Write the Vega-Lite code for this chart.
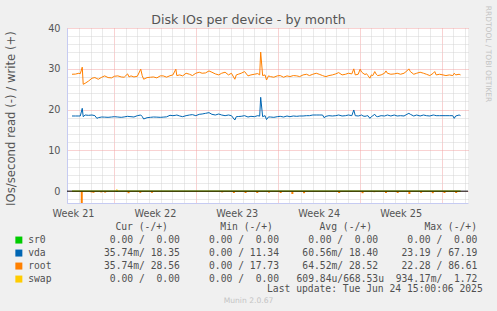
{
"$schema":"https://vega.github.io/schema/vega-lite/v6.json",
"width":401,"height":175,
"autosize":{"type":"none"},
"padding":{"left":67,"top":28,"right":29,"bottom":108},
"background":"#f0f0f0",
"config":{"view":{"fill":"#ffffff","stroke":null},"font":"DejaVu Sans"},
"title":{"text":"Disk IOs per device - by month","font":"DejaVu Sans","fontSize":12.6,"fontWeight":"normal","color":"#555555","anchor":"middle","frame":"group","dx":-19,"baseline":"alphabetic","offset":-31},
"datasets":{
"io":[
{"t":"2025-05-22T10:00Z","root":28.66,"vda":18.43},
{"t":"2025-05-22T17:00Z","root":28.7,"vda":18.43},
{"t":"2025-05-23T00:00Z","root":28.9,"vda":18.43},
{"t":"2025-05-23T03:00Z","root":28.8,"vda":18.43},
{"t":"2025-05-23T07:00Z","root":30.4,"vda":20.31},
{"t":"2025-05-23T09:00Z","root":26.2,"vda":18.26},
{"t":"2025-05-23T13:00Z","root":26.45,"vda":18.67},
{"t":"2025-05-23T20:00Z","root":27.0,"vda":18.59},
{"t":"2025-05-24T03:00Z","root":27.69,"vda":18.67},
{"t":"2025-05-24T09:00Z","root":27.85,"vda":18.51},
{"t":"2025-05-24T13:00Z","root":27.6,"vda":17.85},
{"t":"2025-05-24T16:00Z","root":27.44,"vda":18.02},
{"t":"2025-05-24T23:00Z","root":27.93,"vda":18.18},
{"t":"2025-05-25T05:00Z","root":28.26,"vda":18.15},
{"t":"2025-05-25T12:00Z","root":27.85,"vda":18.1},
{"t":"2025-05-25T19:00Z","root":27.77,"vda":18.18},
{"t":"2025-05-26T01:00Z","root":28.17,"vda":18.26},
{"t":"2025-05-26T08:00Z","root":28.26,"vda":18.18},
{"t":"2025-05-26T15:00Z","root":28.0,"vda":18.1},
{"t":"2025-05-26T21:00Z","root":27.93,"vda":18.2},
{"t":"2025-05-27T04:00Z","root":28.75,"vda":18.35},
{"t":"2025-05-27T07:00Z","root":28.0,"vda":18.3},
{"t":"2025-05-27T11:00Z","root":28.26,"vda":18.26},
{"t":"2025-05-27T17:00Z","root":28.0,"vda":18.18},
{"t":"2025-05-28T00:00Z","root":28.17,"vda":18.51},
{"t":"2025-05-28T07:00Z","root":29.9,"vda":18.67},
{"t":"2025-05-28T10:00Z","root":28.34,"vda":18.3},
{"t":"2025-05-28T13:00Z","root":27.44,"vda":17.69},
{"t":"2025-05-28T20:00Z","root":27.85,"vda":18.02},
{"t":"2025-05-29T03:00Z","root":27.93,"vda":18.1},
{"t":"2025-05-29T09:00Z","root":28.0,"vda":18.18},
{"t":"2025-05-29T16:00Z","root":27.77,"vda":18.15},
{"t":"2025-05-29T23:00Z","root":28.26,"vda":18.1},
{"t":"2025-05-30T05:00Z","root":28.26,"vda":18.15},
{"t":"2025-05-30T12:00Z","root":27.95,"vda":18.22},
{"t":"2025-05-30T19:00Z","root":28.3,"vda":18.6},
{"t":"2025-05-31T01:00Z","root":28.5,"vda":18.51},
{"t":"2025-05-31T07:00Z","root":29.9,"vda":18.6},
{"t":"2025-05-31T09:00Z","root":28.34,"vda":18.67},
{"t":"2025-05-31T15:00Z","root":28.5,"vda":18.43},
{"t":"2025-05-31T21:00Z","root":28.26,"vda":18.26},
{"t":"2025-06-01T04:00Z","root":28.91,"vda":18.51},
{"t":"2025-06-01T11:00Z","root":28.66,"vda":18.67},
{"t":"2025-06-01T17:00Z","root":28.34,"vda":18.76},
{"t":"2025-06-02T00:00Z","root":28.91,"vda":18.51},
{"t":"2025-06-02T07:00Z","root":29.16,"vda":18.84},
{"t":"2025-06-02T13:00Z","root":28.91,"vda":18.92},
{"t":"2025-06-02T20:00Z","root":28.99,"vda":19.08},
{"t":"2025-06-03T03:00Z","root":29.48,"vda":19.25},
{"t":"2025-06-03T09:00Z","root":29.16,"vda":18.84},
{"t":"2025-06-03T16:00Z","root":28.75,"vda":18.67},
{"t":"2025-06-03T23:00Z","root":28.5,"vda":18.92},
{"t":"2025-06-04T05:00Z","root":28.91,"vda":18.67},
{"t":"2025-06-04T12:00Z","root":29.16,"vda":18.51},
{"t":"2025-06-04T19:00Z","root":28.5,"vda":18.67},
{"t":"2025-06-05T01:00Z","root":28.91,"vda":18.51},
{"t":"2025-06-05T08:00Z","root":27.44,"vda":17.44},
{"t":"2025-06-05T11:00Z","root":28.5,"vda":18.26},
{"t":"2025-06-05T15:00Z","root":28.66,"vda":18.3},
{"t":"2025-06-05T21:00Z","root":28.91,"vda":18.35},
{"t":"2025-06-06T04:00Z","root":29.32,"vda":18.51},
{"t":"2025-06-06T11:00Z","root":28.26,"vda":18.18},
{"t":"2025-06-06T17:00Z","root":28.5,"vda":18.35},
{"t":"2025-06-07T00:00Z","root":28.66,"vda":18.26},
{"t":"2025-06-07T07:00Z","root":28.83,"vda":18.51},
{"t":"2025-06-07T11:00Z","root":28.5,"vda":18.4},
{"t":"2025-06-07T13:00Z","root":34.1,"vda":23.01},
{"t":"2025-06-07T17:00Z","root":28.34,"vda":18.26},
{"t":"2025-06-07T22:00Z","root":28.5,"vda":18.51},
{"t":"2025-06-08T01:00Z","root":27.25,"vda":17.55},
{"t":"2025-06-08T05:00Z","root":28.26,"vda":18.2},
{"t":"2025-06-08T09:00Z","root":28.09,"vda":18.18},
{"t":"2025-06-08T16:00Z","root":27.93,"vda":18.1},
{"t":"2025-06-08T23:00Z","root":28.26,"vda":18.26},
{"t":"2025-06-09T05:00Z","root":28.34,"vda":18.35},
{"t":"2025-06-09T12:00Z","root":27.93,"vda":18.18},
{"t":"2025-06-09T19:00Z","root":28.26,"vda":18.43},
{"t":"2025-06-10T01:00Z","root":28.09,"vda":18.26},
{"t":"2025-06-10T08:00Z","root":28.34,"vda":18.43},
{"t":"2025-06-10T15:00Z","root":28.26,"vda":18.35},
{"t":"2025-06-10T21:00Z","root":28.09,"vda":18.43},
{"t":"2025-06-11T04:00Z","root":28.5,"vda":18.43},
{"t":"2025-06-11T11:00Z","root":28.66,"vda":18.51},
{"t":"2025-06-11T17:00Z","root":28.34,"vda":18.51},
{"t":"2025-06-12T00:00Z","root":28.66,"vda":18.67},
{"t":"2025-06-12T07:00Z","root":28.91,"vda":18.67},
{"t":"2025-06-12T13:00Z","root":28.66,"vda":18.67},
{"t":"2025-06-12T20:00Z","root":28.34,"vda":18.67},
{"t":"2025-06-12T23:00Z","root":28.2,"vda":18.02},
{"t":"2025-06-13T03:00Z","root":28.09,"vda":18.35},
{"t":"2025-06-13T09:00Z","root":28.34,"vda":18.51},
{"t":"2025-06-13T16:00Z","root":28.5,"vda":18.43},
{"t":"2025-06-13T23:00Z","root":28.75,"vda":18.51},
{"t":"2025-06-14T05:00Z","root":29.07,"vda":18.67},
{"t":"2025-06-14T12:00Z","root":28.5,"vda":18.43},
{"t":"2025-06-14T19:00Z","root":28.66,"vda":18.51},
{"t":"2025-06-15T01:00Z","root":28.91,"vda":18.67},
{"t":"2025-06-15T08:00Z","root":28.75,"vda":18.51},
{"t":"2025-06-15T12:00Z","root":29.98,"vda":19.9},
{"t":"2025-06-15T15:00Z","root":28.5,"vda":18.51},
{"t":"2025-06-15T21:00Z","root":28.66,"vda":18.43},
{"t":"2025-06-16T01:00Z","root":29.9,"vda":18.55},
{"t":"2025-06-16T04:00Z","root":29.2,"vda":18.67},
{"t":"2025-06-16T07:00Z","root":28.91,"vda":18.43},
{"t":"2025-06-16T11:00Z","root":28.58,"vda":18.35},
{"t":"2025-06-16T14:00Z","root":28.8,"vda":18.45},
{"t":"2025-06-16T17:00Z","root":28.34,"vda":18.51},
{"t":"2025-06-16T21:00Z","root":27.69,"vda":17.85},
{"t":"2025-06-17T00:00Z","root":28.5,"vda":18.26},
{"t":"2025-06-17T03:00Z","root":28.34,"vda":18.5},
{"t":"2025-06-17T07:00Z","root":29.32,"vda":18.84},
{"t":"2025-06-17T10:00Z","root":28.66,"vda":18.35},
{"t":"2025-06-17T13:00Z","root":28.34,"vda":18.26},
{"t":"2025-06-17T20:00Z","root":28.5,"vda":18.51},
{"t":"2025-06-18T03:00Z","root":28.91,"vda":18.43},
{"t":"2025-06-18T06:00Z","root":29.48,"vda":18.55},
{"t":"2025-06-18T09:00Z","root":28.91,"vda":18.67},
{"t":"2025-06-18T16:00Z","root":28.66,"vda":18.43},
{"t":"2025-06-18T23:00Z","root":28.75,"vda":18.67},
{"t":"2025-06-19T05:00Z","root":28.91,"vda":18.43},
{"t":"2025-06-19T12:00Z","root":28.66,"vda":18.51},
{"t":"2025-06-19T19:00Z","root":28.91,"vda":18.43},
{"t":"2025-06-20T01:00Z","root":29.48,"vda":18.84},
{"t":"2025-06-20T05:00Z","root":29.98,"vda":19.08},
{"t":"2025-06-20T08:00Z","root":29.32,"vda":18.84},
{"t":"2025-06-20T15:00Z","root":28.66,"vda":18.43},
{"t":"2025-06-20T21:00Z","root":28.91,"vda":18.67},
{"t":"2025-06-21T04:00Z","root":29.16,"vda":18.43},
{"t":"2025-06-21T11:00Z","root":28.91,"vda":18.67},
{"t":"2025-06-21T17:00Z","root":28.66,"vda":18.51},
{"t":"2025-06-22T00:00Z","root":28.34,"vda":18.43},
{"t":"2025-06-22T07:00Z","root":28.91,"vda":18.67},
{"t":"2025-06-22T10:00Z","root":29.32,"vda":18.6},
{"t":"2025-06-22T13:00Z","root":28.5,"vda":18.51},
{"t":"2025-06-22T20:00Z","root":28.66,"vda":18.51},
{"t":"2025-06-23T03:00Z","root":28.5,"vda":18.51},
{"t":"2025-06-23T09:00Z","root":28.34,"vda":18.51},
{"t":"2025-06-23T16:00Z","root":28.5,"vda":18.51},
{"t":"2025-06-23T23:00Z","root":28.34,"vda":18.51},
{"t":"2025-06-24T02:00Z","root":28.91,"vda":17.85},
{"t":"2025-06-24T05:00Z","root":28.5,"vda":18.43},
{"t":"2025-06-24T12:00Z","root":28.66,"vda":18.67},
{"t":"2025-06-24T15:00Z","root":28.5,"vda":18.51}
],
"reads":[
{"t":"2025-05-23T06:00Z","dev":"root","r":-2.9},
{"t":"2025-05-24T02:00Z","dev":"root","r":-0.3},
{"t":"2025-05-24T06:00Z","dev":"root","r":-0.4},
{"t":"2025-05-24T22:00Z","dev":"root","r":-0.3},
{"t":"2025-05-25T06:00Z","dev":"root","r":-0.35},
{"t":"2025-05-27T06:00Z","dev":"root","r":-0.5},
{"t":"2025-05-28T06:00Z","dev":"root","r":-0.4},
{"t":"2025-05-29T06:00Z","dev":"root","r":-0.4},
{"t":"2025-06-04T06:00Z","dev":"root","r":-0.3},
{"t":"2025-06-05T06:00Z","dev":"root","r":-0.45},
{"t":"2025-06-06T06:00Z","dev":"root","r":-0.45},
{"t":"2025-06-07T06:00Z","dev":"root","r":-0.45},
{"t":"2025-06-08T06:00Z","dev":"root","r":-0.35},
{"t":"2025-06-09T06:00Z","dev":"root","r":-0.45},
{"t":"2025-06-10T06:00Z","dev":"root","r":-0.7},
{"t":"2025-06-11T06:00Z","dev":"root","r":-0.5},
{"t":"2025-06-14T06:00Z","dev":"root","r":-0.45},
{"t":"2025-06-15T06:00Z","dev":"root","r":-0.2},
{"t":"2025-06-16T06:00Z","dev":"root","r":-0.5},
{"t":"2025-06-17T06:00Z","dev":"root","r":-0.25},
{"t":"2025-06-18T06:00Z","dev":"root","r":-0.45},
{"t":"2025-06-19T06:00Z","dev":"root","r":-0.45},
{"t":"2025-06-20T06:00Z","dev":"root","r":-0.7},
{"t":"2025-06-21T06:00Z","dev":"root","r":-0.4},
{"t":"2025-06-22T06:00Z","dev":"root","r":-0.5},
{"t":"2025-06-23T06:00Z","dev":"root","r":-0.45},
{"t":"2025-06-24T06:00Z","dev":"root","r":-0.45}
],
"other":[
{"t":"2025-05-22T10:00Z","dev":"sr0","v":0},
{"t":"2025-06-24T15:00Z","dev":"sr0","v":0},
{"t":"2025-05-22T10:00Z","dev":"swap","v":0},
{"t":"2025-05-26T04:00Z","dev":"swap","v":0},
{"t":"2025-05-26T06:00Z","dev":"swap","v":0.4},
{"t":"2025-05-26T08:00Z","dev":"swap","v":0},
{"t":"2025-06-24T15:00Z","dev":"swap","v":0}
]
},
"layer":[
{
"data":{"name":"reads"},
"mark":{"type":"bar","width":2,"clip":true},
"encoding":{
"x":{"field":"t","type":"temporal","scale":{"type":"utc","domain":[{"year":2025,"month":"may","date":22,"hours":10,"utc":true},{"year":2025,"month":"jun","date":24,"hours":20,"utc":true}]},
"axis":{"orient":"bottom","values":[{"year":2025,"month":"may","date":22,"hours":12,"utc":true},{"year":2025,"month":"may","date":29,"hours":12,"utc":true},{"year":2025,"month":"jun","date":5,"hours":12,"utc":true},{"year":2025,"month":"jun","date":12,"hours":12,"utc":true},{"year":2025,"month":"jun","date":19,"hours":12,"utc":true}],
"labelExpr":"'Week ' + utcFormat(datum.value, '%V')","labelFont":"DejaVu Sans","labelFontSize":9.7,"labelColor":"#555555","labelPadding":5.5,"labelFlush":false,"labelOverlap":false,"ticks":false,"tickSize":0,"grid":false,"domain":true,"domainColor":"#c6cbf2","domainWidth":1,
"title":"Last update: Tue Jun 24 15:00:06 2025","titleFont":"DejaVu Sans Mono","titleFontSize":9.7,"titleFontWeight":"normal","titleColor":"#505050","titleAlign":"right","titleBaseline":"middle","titleX":415.3,"titleY":85}},
"y":{"field":"r","type":"quantitative","stack":null,"scale":{"domain":[-2.9,40],"nice":false,"zero":false},
"axis":{"orient":"right","labels":false,"ticks":false,"domain":false,"grid":false,"title":"RRDTOOL / TOBI OETIKER","titleAngle":90,"titleFont":"DejaVu Sans","titleFontSize":7.5,"titleFontWeight":"normal","titleColor":"#c4c4c4","titleAlign":"center","titleBaseline":"middle","titleX":19,"titleY":25.5}},
"y2":{"datum":0},
"color":{"field":"dev","type":"nominal","scale":{"domain":["sr0","vda","root","swap"],"range":["#00cc00","#0066b3","#ff8000","#ffcc00"]},
"legend":{"orient":"none","legendX":-53,"legendY":194,"direction":"vertical","padding":0,
"title":"Cur (-/+)\u00a0\u00a0\u00a0\u00a0\u00a0\u00a0\u00a0\u00a0\u00a0Min (-/+)\u00a0\u00a0\u00a0\u00a0\u00a0\u00a0\u00a0\u00a0Avg (-/+)\u00a0\u00a0\u00a0\u00a0\u00a0\u00a0\u00a0\u00a0\u00a0Max (-/+)",
"titleFont":"DejaVu Sans Mono","titleFontSize":9.7,"titleFontWeight":"normal","titleColor":"#505050","titleAnchor":"end","titlePadding":3.5,"titleLimit":1000,
"labelFont":"DejaVu Sans Mono","labelFontSize":9.7,"labelColor":"#505050","labelLimit":1000,"labelOffset":4.5,
"labelExpr":"{'sr0':'sr0\u00a0\u00a0\u00a0\u00a0\u00a0\u00a0\u00a0\u00a0\u00a0\u00a0\u00a00.00\u00a0/\u00a0\u00a00.00\u00a0\u00a0\u00a0\u00a0\u00a00.00\u00a0/\u00a0\u00a00.00\u00a0\u00a0\u00a0\u00a0\u00a00.00\u00a0/\u00a0\u00a00.00\u00a0\u00a0\u00a0\u00a0\u00a00.00\u00a0/\u00a0\u00a00.00','vda':'vda\u00a0\u00a0\u00a0\u00a0\u00a0\u00a0\u00a0\u00a0\u00a0\u00a035.74m/\u00a018.35\u00a0\u00a0\u00a0\u00a0\u00a00.00\u00a0/\u00a011.34\u00a0\u00a0\u00a0\u00a060.56m/\u00a018.40\u00a0\u00a0\u00a0\u00a023.19\u00a0/\u00a067.19','root':'root\u00a0\u00a0\u00a0\u00a0\u00a0\u00a0\u00a0\u00a0\u00a035.74m/\u00a028.56\u00a0\u00a0\u00a0\u00a0\u00a00.00\u00a0/\u00a017.73\u00a0\u00a0\u00a0\u00a064.52m/\u00a028.52\u00a0\u00a0\u00a0\u00a022.28\u00a0/\u00a086.61','swap':'swap\u00a0\u00a0\u00a0\u00a0\u00a0\u00a0\u00a0\u00a0\u00a0\u00a00.00\u00a0/\u00a0\u00a00.00\u00a0\u00a0\u00a0\u00a0\u00a00.00\u00a0/\u00a0\u00a00.00\u00a0\u00a0\u00a0609.84u/668.53u\u00a0\u00a0934.17m/\u00a0\u00a01.72'}[datum.label]",
"symbolType":"square","symbolSize":49,"symbolStrokeWidth":0,"symbolOpacity":1,"rowPadding":2}}
}
},
{
"data":{"name":"other"},
"mark":{"type":"line","strokeWidth":1,"clip":true},
"encoding":{
"x":{"field":"t","type":"temporal","scale":{"type":"utc","domain":[{"year":2025,"month":"may","date":22,"hours":10,"utc":true},{"year":2025,"month":"jun","date":24,"hours":20,"utc":true}]},"axis":null},
"y":{"field":"v","type":"quantitative","scale":{"domain":[-2.9,40],"nice":false,"zero":false},"axis":null},
"color":{"field":"dev","type":"nominal","scale":{"domain":["sr0","vda","root","swap"],"range":["#00cc00","#0066b3","#ff8000","#ffcc00"]},"legend":null}
}
},
{
"data":{"values":[{}]},
"mark":{"type":"rule","color":"#000000","strokeWidth":1},
"encoding":{
"y":{"datum":0,"type":"quantitative","scale":{"domain":[-2.9,40],"nice":false,"zero":false},"axis":null}
}
},
{
"data":{"name":"io"},
"transform":[{"fold":["vda","root"],"as":["dev","v"]}],
"mark":{"type":"line","strokeWidth":1,"clip":true},
"encoding":{
"x":{"field":"t","type":"temporal","scale":{"type":"utc","domain":[{"year":2025,"month":"may","date":22,"hours":10,"utc":true},{"year":2025,"month":"jun","date":24,"hours":20,"utc":true}]},
"axis":{"orient":"bottom","tickCount":{"interval":"day","step":1},"labels":false,"ticks":false,"domain":false,"grid":true,"gridColor":{"condition":{"test":"utcday(datum.value) === 1","value":"#f2a5a5"},"value":"#d4d4d4"},"gridDash":[1,1],"gridWidth":1,
"title":"Munin 2.0.67","titleFont":"DejaVu Sans","titleFontSize":7.6,"titleFontWeight":"normal","titleColor":"#c4c4c4","titleAlign":"center","titleBaseline":"middle","titleX":181,"titleY":97}},
"y":{"field":"v","type":"quantitative","scale":{"domain":[-2.9,40],"nice":false,"zero":false},
"axis":{"orient":"left","values":[-2,0,2,4,6,8,10,12,14,16,18,20,22,24,26,28,30,32,34,36,38,40],"labelExpr":"datum.value % 10 === 0 ? datum.label : ''","labelFont":"DejaVu Sans","labelFontSize":9.7,"labelColor":"#555555","labelPadding":7,"labelOverlap":false,"ticks":false,"tickSize":0,"domain":true,"domainColor":"#c6cbf2","grid":true,"gridColor":{"condition":{"test":"datum.value % 10 === 0","value":"#f2a5a5"},"value":"#d4d4d4"},"gridDash":[1,1],"gridWidth":1,
"title":"IOs/second read (-) / write (+)","titleFont":"DejaVu Sans","titleFontSize":11.7,"titleFontWeight":"normal","titleColor":"#555555","titleAngle":270,"titleAlign":"center","titleBaseline":"middle","titleX":-57,"titleY":90}},
"color":{"field":"dev","type":"nominal","scale":{"domain":["sr0","vda","root","swap"],"range":["#00cc00","#0066b3","#ff8000","#ffcc00"]},"legend":null}
}
}
],
"resolve":{"axis":{"x":"independent","y":"independent"}}
}
